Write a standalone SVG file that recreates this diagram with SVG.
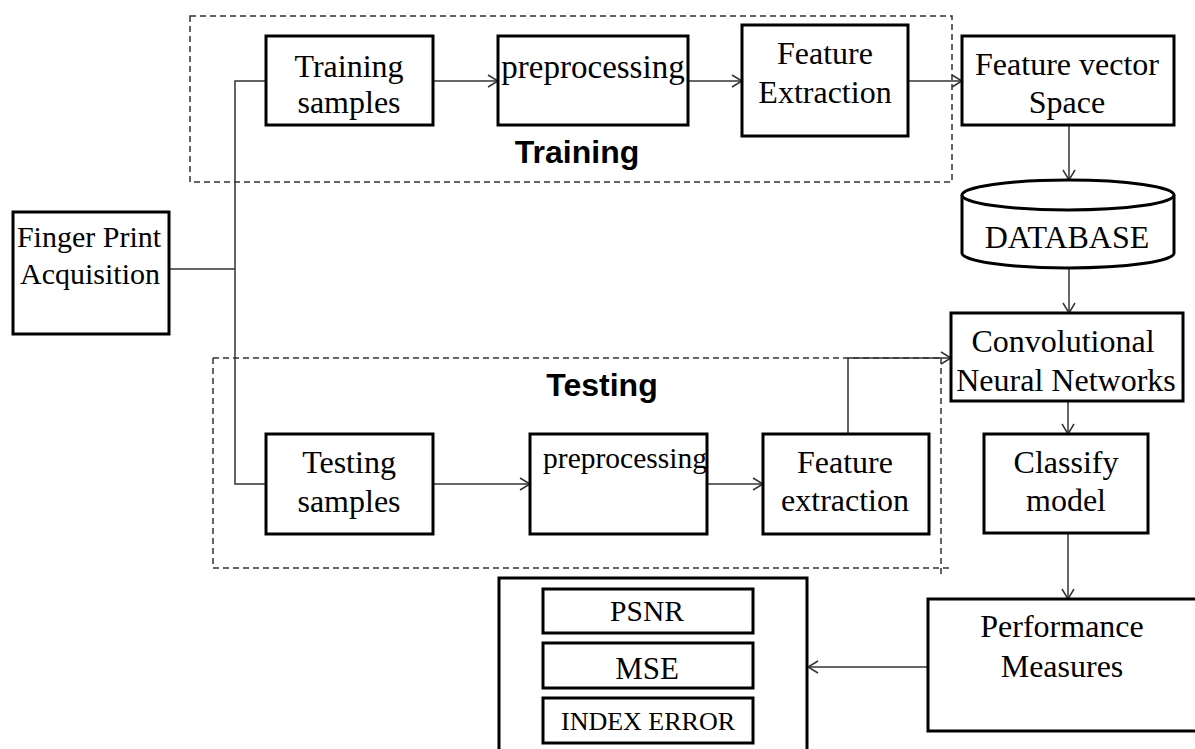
<svg xmlns="http://www.w3.org/2000/svg" width="1195" height="749" viewBox="0 0 1195 749">
<style>
.box{fill:#fff;stroke:#000;stroke-width:3}
.dash{fill:none;stroke:#333;stroke-width:1.5;stroke-dasharray:6 4}
.con{fill:none;stroke:#333;stroke-width:1.5}
.t{font-family:"Liberation Serif","Times New Roman",serif;font-size:32px;fill:#000;text-anchor:middle}
.b{font-family:"Liberation Sans",Arial,sans-serif;font-size:32px;font-weight:bold;fill:#000;text-anchor:middle}
</style>
<defs>
<marker id="ah" markerWidth="12" markerHeight="14" refX="11" refY="7" orient="auto" markerUnits="userSpaceOnUse">
<path d="M1,1 L11,7 L1,13" fill="none" stroke="#333" stroke-width="1.5"/>
</marker>
</defs>
<rect width="1195" height="749" fill="#fff"/>

<g id="groups">
<rect class="dash" x="190" y="16" width="762" height="166"/>
<text class="b" x="577" y="163">Training</text>
<line class="dash" x1="213" y1="358" x2="941" y2="358"/>
<line class="dash" x1="213" y1="358" x2="213" y2="568"/>
<line class="dash" x1="213" y1="568" x2="953" y2="568"/>
<line class="dash" x1="941" y1="358" x2="941" y2="578"/>
<text class="b" x="602" y="396">Testing</text>
</g>

<g id="connectors">
<polyline class="con" points="169,269 235,269"/>
<polyline class="con" points="265,81 235,81 235,484 266,484"/>
<line class="con" x1="433" y1="81" x2="498" y2="81" marker-end="url(#ah)"/>
<line class="con" x1="688" y1="81" x2="742" y2="81" marker-end="url(#ah)"/>
<line class="con" x1="908" y1="81" x2="962" y2="81" marker-end="url(#ah)"/>
<line class="con" x1="1069" y1="125" x2="1069" y2="180" marker-end="url(#ah)"/>
<line class="con" x1="1069" y1="268" x2="1069" y2="313" marker-end="url(#ah)"/>
<line class="con" x1="433" y1="484" x2="530" y2="484" marker-end="url(#ah)"/>
<line class="con" x1="707" y1="484" x2="763" y2="484" marker-end="url(#ah)"/>
<polyline class="con" points="848,434 848,358 951,358" marker-end="url(#ah)"/>
<line class="con" x1="1068" y1="401" x2="1068" y2="434" marker-end="url(#ah)"/>
<line class="con" x1="1068" y1="533" x2="1068" y2="599" marker-end="url(#ah)"/>
<line class="con" x1="928" y1="667" x2="808" y2="667" marker-end="url(#ah)"/>
</g>

<g id="acquisition">
<rect class="box" x="13" y="212" width="156" height="122"/>
<text class="t" x="89" y="247" style="font-size:30px">Finger Print</text>
<text class="t" x="90" y="284" style="font-size:30px">Acquisition</text>
</g>

<g id="training-samples">
<rect class="box" x="266" y="36" width="167" height="89"/>
<text class="t" x="349" y="77">Training</text>
<text class="t" x="349" y="113">samples</text>
</g>

<g id="preprocessing-train">
<rect class="box" x="498" y="36" width="190" height="89"/>
<text class="t" x="593" y="78" style="font-size:33px">preprocessing</text>
</g>

<g id="feature-extraction-train">
<rect class="box" x="742" y="25" width="166" height="111"/>
<text class="t" x="825" y="64">Feature</text>
<text class="t" x="825" y="103">Extraction</text>
</g>

<g id="feature-vector-space">
<rect class="box" x="962" y="36" width="212" height="89"/>
<text class="t" x="1067" y="75">Feature vector</text>
<text class="t" x="1067" y="113">Space</text>
</g>

<g id="database">
<path class="box" d="M962,195 L962,253 A106,15 0 0 0 1174,253 L1174,195"/>
<ellipse class="box" cx="1068" cy="195" rx="106" ry="15"/>
<text class="t" x="1067" y="248">DATABASE</text>
</g>

<g id="cnn">
<rect class="box" x="951" y="313" width="232" height="88"/>
<text class="t" x="1063" y="352">Convolutional</text>
<text class="t" x="1066" y="391">Neural Networks</text>
</g>

<g id="testing-samples">
<rect class="box" x="266" y="434" width="167" height="100"/>
<text class="t" x="349" y="473">Testing</text>
<text class="t" x="349" y="512">samples</text>
</g>

<g id="preprocessing-test">
<rect class="box" x="530" y="434" width="177" height="100"/>
<text class="t" x="625" y="468" style="font-size:29.5px">preprocessing</text>
</g>

<g id="feature-extraction-test">
<rect class="box" x="763" y="434" width="166" height="100"/>
<text class="t" x="845" y="473">Feature</text>
<text class="t" x="845" y="511">extraction</text>
</g>

<g id="classify">
<rect class="box" x="984" y="434" width="164" height="99"/>
<text class="t" x="1066" y="473">Classify</text>
<text class="t" x="1066" y="511">model</text>
</g>

<g id="performance">
<rect class="box" x="928" y="599" width="270" height="132"/>
<text class="t" x="1062" y="637">Performance</text>
<text class="t" x="1062" y="677">Measures</text>
</g>

<g id="metrics">
<rect class="box" x="499" y="578" width="308" height="190"/>
<rect class="box" x="543" y="589" width="210" height="44"/>
<text class="t" x="647" y="621" style="font-size:29.5px">PSNR</text>
<rect class="box" x="543" y="643" width="210" height="45"/>
<text class="t" x="647" y="679" style="font-size:31px">MSE</text>
<rect class="box" x="543" y="698" width="210" height="45"/>
<text class="t" x="648" y="730" style="font-size:26px">INDEX ERROR</text>
</g>
</svg>
